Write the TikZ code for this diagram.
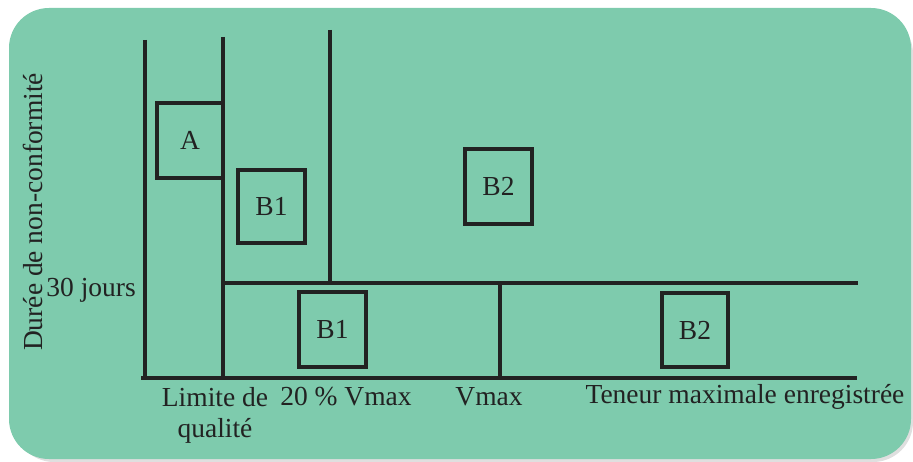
\documentclass[tikz,border=0pt]{standalone}
\usepackage{fontspec}
\setmainfont{Liberation Serif}
\definecolor{bgc}{HTML}{7ECBAD}
\definecolor{ink}{HTML}{222222}
\begin{document}
\begin{tikzpicture}[x=1pt,y=-1pt,
  axis/.style={draw=ink,line width=3.8pt},
  zone/.style={draw=ink,line width=3.8pt,rectangle,inner sep=0pt},
  lbl/.style={font=\fontsize{27.5}{32}\selectfont,text=ink,inner sep=0pt}]
\useasboundingbox (0,0) rectangle (913,462);
\fill[gray!25,rounded corners=40pt] (14,14) rectangle (913,462);
\fill[bgc,rounded corners=40pt] (9,8) rectangle (911,459);
% axes and frontier lines
\coordinate (y1t) at (145,40); \coordinate (y1b) at (145,378);
\coordinate (lqt) at (223,37); \coordinate (lqb) at (223,378);
\coordinate (v20t) at (330,30); \coordinate (v20b) at (330,283);
\coordinate (hl) at (223,283); \coordinate (hr) at (858,283);
\coordinate (vmt) at (500,283); \coordinate (vmb) at (500,378);
\coordinate (bl) at (143,378); \coordinate (br) at (855,378);
\draw[axis] (y1t) -- (y1b);
\draw[axis] (lqt) -- (lqb);
\draw[axis] (v20t) -- (v20b);
\draw[axis] (hl) -- (hr);
\draw[axis] (vmt) -- (vmb);
\draw[axis,line cap=rect] (bl) -- (br);
% zones
\draw[zone] (157,103) rectangle (223,178);
\node[lbl] (A) at (190,140.5) {A};
\draw[zone] (238,170) rectangle (305,243);
\node[lbl] (B1a) at (271.5,206.5) {B1};
\draw[zone] (465,149) rectangle (532,224);
\node[lbl] (B2a) at (498.5,186.5) {B2};
\draw[zone] (299,292) rectangle (366,367);
\node[lbl] (B1b) at (332.5,329.5) {B1};
\draw[zone] (662,293) rectangle (728,367);
\node[lbl] (B2b) at (695,330) {B2};
% labels
\node[lbl,rotate=90] (ylab) at (33,212) {Durée de non-conformité};
\node[lbl,anchor=east] (j30) at (136,290) {30 jours};
\node[lbl] (lq1) at (215,397) {Limite de};
\node[lbl] (lq2) at (215,431) {qualité};
\node[lbl] (v20) at (346,397) {20 \% Vmax};
\node[lbl] (vm) at (489,397) {Vmax};
\node[lbl] (ten) at (745,397) {Teneur maximale enregistrée};
\end{tikzpicture}
\end{document}
